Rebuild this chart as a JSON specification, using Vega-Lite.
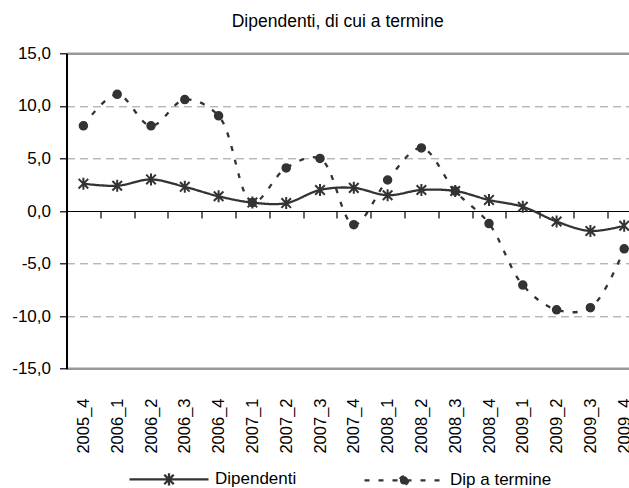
{
  "$schema": "https://vega.github.io/schema/vega-lite/v6.json",
  "autosize": {"type": "none"},
  "padding": {"left": 66.5, "top": 53.3, "right": 0, "bottom": 119.3},
  "width": 562.5,
  "height": 315.4,
  "background": "white",
  "title": {
    "text": "Dipendenti, di cui a  termine",
    "font": "Liberation Sans",
    "fontSize": 17.5,
    "fontWeight": "normal",
    "color": "black",
    "anchor": "middle",
    "dx": -10,
    "offset": 14
  },
  "data": {
    "values": [
      {"periodo": "2005_4", "serie": "Dipendenti", "valore": 2.6},
      {"periodo": "2006_1", "serie": "Dipendenti", "valore": 2.4},
      {"periodo": "2006_2", "serie": "Dipendenti", "valore": 3.0},
      {"periodo": "2006_3", "serie": "Dipendenti", "valore": 2.3},
      {"periodo": "2006_4", "serie": "Dipendenti", "valore": 1.4},
      {"periodo": "2007_1", "serie": "Dipendenti", "valore": 0.8},
      {"periodo": "2007_2", "serie": "Dipendenti", "valore": 0.75},
      {"periodo": "2007_3", "serie": "Dipendenti", "valore": 2.0},
      {"periodo": "2007_4", "serie": "Dipendenti", "valore": 2.2},
      {"periodo": "2008_1", "serie": "Dipendenti", "valore": 1.5},
      {"periodo": "2008_2", "serie": "Dipendenti", "valore": 2.0},
      {"periodo": "2008_3", "serie": "Dipendenti", "valore": 1.9},
      {"periodo": "2008_4", "serie": "Dipendenti", "valore": 1.05},
      {"periodo": "2009_1", "serie": "Dipendenti", "valore": 0.4},
      {"periodo": "2009_2", "serie": "Dipendenti", "valore": -1.0},
      {"periodo": "2009_3", "serie": "Dipendenti", "valore": -1.9},
      {"periodo": "2009_4", "serie": "Dipendenti", "valore": -1.4},
      {"periodo": "2005_4", "serie": "Dip a termine", "valore": 8.1},
      {"periodo": "2006_1", "serie": "Dip a termine", "valore": 11.1},
      {"periodo": "2006_2", "serie": "Dip a termine", "valore": 8.1},
      {"periodo": "2006_3", "serie": "Dip a termine", "valore": 10.6},
      {"periodo": "2006_4", "serie": "Dip a termine", "valore": 9.05},
      {"periodo": "2007_1", "serie": "Dip a termine", "valore": 0.8},
      {"periodo": "2007_2", "serie": "Dip a termine", "valore": 4.1},
      {"periodo": "2007_3", "serie": "Dip a termine", "valore": 5.0},
      {"periodo": "2007_4", "serie": "Dip a termine", "valore": -1.3},
      {"periodo": "2008_1", "serie": "Dip a termine", "valore": 2.95},
      {"periodo": "2008_2", "serie": "Dip a termine", "valore": 6.0},
      {"periodo": "2008_3", "serie": "Dip a termine", "valore": 1.9},
      {"periodo": "2008_4", "serie": "Dip a termine", "valore": -1.2},
      {"periodo": "2009_1", "serie": "Dip a termine", "valore": -7.05},
      {"periodo": "2009_2", "serie": "Dip a termine", "valore": -9.4},
      {"periodo": "2009_3", "serie": "Dip a termine", "valore": -9.2},
      {"periodo": "2009_4", "serie": "Dip a termine", "valore": -3.6}
    ]
  },
  "encoding": {
    "x": {
      "field": "periodo",
      "type": "ordinal",
      "sort": null,
      "scale": {"type": "band", "paddingInner": 0, "paddingOuter": 0, "range": [0, 574.6]},
      "axis": {
        "title": null,
        "offset": -157.7,
        "orient": "bottom",
        "domainColor": "black",
        "domainWidth": 1.2,
        "tickColor": "black",
        "tickWidth": 1.2,
        "tickSize": 7,
        "tickBand": "extent",
        "labelAngle": -90,
        "labelPadding": 180,
        "labelFont": "Liberation Sans",
        "labelFontSize": 16.5,
        "labelColor": "black",
        "grid": false
      }
    },
    "y": {
      "field": "valore",
      "type": "quantitative",
      "scale": {"domain": [-15, 15], "nice": false, "zero": false},
      "axis": {
        "title": null,
        "values": [-15, -10, -5, 0, 5, 10, 15],
        "labelExpr": "replace(replace(format(datum.value, '.1f'), '.', ','), '\u2212', '-')",
        "labelFont": "Liberation Sans",
        "labelFontSize": 17,
        "labelColor": "black",
        "labelPadding": 9,
        "domainColor": "black",
        "domainWidth": 2,
        "tickColor": "black",
        "tickWidth": 1.2,
        "tickSize": 7,
        "grid": true,
        "gridColor": {"condition": {"test": "datum.value === 0", "value": "transparent"}, "value": "#999999"},
        "gridDash": {"condition": {"test": "abs(datum.value) === 15", "value": [1, 0]}, "value": [8, 5]},
        "gridWidth": {"condition": {"test": "abs(datum.value) === 15", "value": 2.5}, "value": 1}
      }
    }
  },
  "layer": [
    {
      "mark": {"type": "line", "interpolate": "catmull-rom", "color": "#333333", "strokeWidth": 2.3},
      "encoding": {
        "detail": {"field": "serie"},
        "strokeDash": {
          "field": "serie",
          "type": "nominal",
          "scale": {"domain": ["Dipendenti", "Dip a termine"], "range": [[1, 0], [5, 9]]},
          "legend": {
            "title": null,
            "orient": "none",
            "legendX": 61.5,
            "legendY": 385,
            "direction": "horizontal",
            "padding": 0,
            "symbolSize": 6241,
            "symbolStrokeWidth": 2.3,
            "symbolStrokeColor": "#333333",
            "symbolFillColor": "#333333",
            "labelOffset": 5,
            "columnPadding": 62,
            "labelFont": "Liberation Sans",
            "labelFontSize": 17,
            "labelColor": "black",
            "encode": {
              "symbols": {
                "update": {
                  "shape": {"signal": "datum.value === 'Dipendenti' ? 'M-1,0L1,0M-0.12,-0.12L0.12,0.12M-0.12,0.12L0.12,-0.12M0,-0.155L0,0.155' : 'M-1,0L1,0M0.105,0A0.105,0.105 0 1,1 -0.105,0A0.105,0.105 0 1,1 0.105,0Z'"},
                  "fill": {"value": "#333333"},
                  "stroke": {"value": "#333333"},
                  "size": {"value": 6241}
                }
              }
            }
          }
        }
      }
    },
    {
      "transform": [{"filter": "datum.serie === 'Dipendenti'"}],
      "mark": {"type": "point", "shape": "M-0.8,-0.8L0.8,0.8M-0.8,0.8L0.8,-0.8M0,-1L0,1", "size": 144, "filled": false, "stroke": "#333333", "strokeWidth": 2, "opacity": 1},
      "encoding": {}
    },
    {
      "transform": [{"filter": "datum.serie === 'Dip a termine'"}],
      "mark": {"type": "point", "shape": "circle", "size": 64, "filled": true, "fill": "#333333", "stroke": "#333333", "strokeWidth": 1.5, "opacity": 1},
      "encoding": {}
    }
  ],
  "config": {
    "view": {"stroke": null},
    "font": "Liberation Sans"
  }
}
